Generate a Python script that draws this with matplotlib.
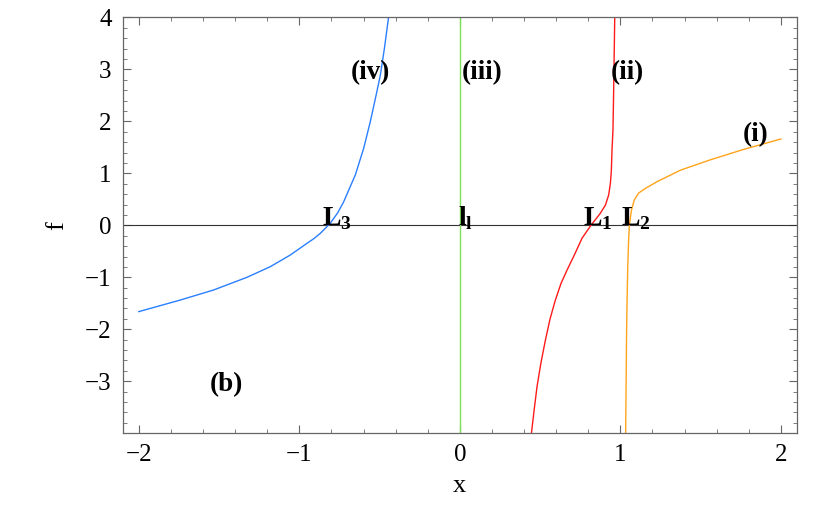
import numpy as np
import matplotlib
matplotlib.use('Agg')
import matplotlib.pyplot as plt
from matplotlib.ticker import MultipleLocator

plt.rcParams['font.family'] = ['Liberation Serif', 'DejaVu Serif']
plt.rcParams['mathtext.fontset'] = 'custom'
plt.rcParams['mathtext.rm'] = 'Liberation Serif'
plt.rcParams['mathtext.bf'] = 'Liberation Serif:bold'

# curve (iv), blue
x_iv = [-2.0, -1.741, -1.534, -1.326, -1.181, -1.056, -0.952, -0.911, -0.869, -0.807,
        -0.761, -0.724, -0.651, -0.599, -0.558, -0.526, -0.495, -0.470, -0.444]
f_iv = [-1.66, -1.437, -1.244, -1.0, -0.796, -0.571, -0.346, -0.26, -0.154, 0.04,
        0.24, 0.45, 0.97, 1.48, 1.99, 2.44, 2.89, 3.40, 4.0]

# curve (ii), red
x_ii = [0.446, 0.463, 0.481, 0.505, 0.533, 0.562, 0.595, 0.630, 0.668, 0.715,
        0.761, 0.817, 0.875, 0.907, 0.927, 0.938, 0.944, 0.948, 0.954, 0.958, 0.965]
f_ii = [-4.0, -3.55, -3.10, -2.65, -2.21, -1.80, -1.44, -1.12, -0.86, -0.56,
        -0.25, 0.0, 0.23, 0.39, 0.58, 0.81, 1.06, 1.45, 1.83, 2.54, 4.0]

# curve (i), orange
x_i = [1.033, 1.039, 1.042, 1.046, 1.052, 1.056, 1.069, 1.087, 1.114, 1.156,
       1.229, 1.374, 1.561, 1.768, 2.0]
f_i = [-4.0, -2.0, -1.44, -0.8, -0.25, 0.0, 0.29, 0.49, 0.62, 0.71,
       0.84, 1.06, 1.26, 1.46, 1.66]

# line (iii), green
x_iii = [0.0, 0.0]
f_iii = [-4.0, 4.0]

fig = plt.figure(figsize=(8.31, 5.13), dpi=100)
ax = fig.add_axes([0.1477, 0.1554, 0.8113, 0.8108])

ax.axhline(0, color='#333333', lw=0.8)
ax.plot(x_iii, f_iii, color='#7be05a', lw=1.0)
ax.plot(x_iv, f_iv, color='#2a7fff', lw=1.0)
ax.plot(x_ii, f_ii, color='#ff1a1a', lw=1.0)
ax.plot(x_i, f_i, color='#ffa31a', lw=1.0)

ax.set_xlim(-2.1, 2.1)
ax.set_ylim(-4, 4)
ax.set_xticks([-2, -1, 0, 1, 2])
ax.set_xticklabels(['\u22122', '\u22121', '0', '1', '2'])
ax.set_yticks([-3, -2, -1, 0, 1, 2, 3, 4])
ax.set_yticklabels(['\u22123', '\u22122', '\u22121', '0', '1', '2', '3', '4'])
ax.xaxis.set_minor_locator(MultipleLocator(0.2))
ax.yaxis.set_minor_locator(MultipleLocator(0.2))
ax.tick_params(which='both', direction='in', top=True, right=True,
               color='#666666', labelsize=18)
ax.tick_params(which='major', length=6, width=0.8, pad=8)
ax.tick_params(which='minor', length=3, width=0.6)
for s in ax.spines.values():
    s.set_color('#666666')
    s.set_linewidth(0.9)

ax.set_xlabel('x', fontsize=19, labelpad=6)
ax.set_ylabel('f', fontsize=19, labelpad=12)

bold = dict(fontsize=19.5, fontweight='bold', va='baseline', ha='left')
ax.text(-0.678, 2.81, '(iv)', **bold)
ax.text(0.014, 2.81, '(iii)', **bold)
ax.text(0.942, 2.81, '(ii)', **bold)
ax.text(1.764, 1.61, '(i)', **bold)
ax.text(-1.559, -3.18, '(b)', **bold)

lab = dict(fontsize=20, va='baseline', ha='left')
ax.text(-0.859, 0.0, r'$\mathbf{L}_\mathbf{3}$', **lab)
ax.text(-0.01, 0.0, r'$\mathbf{l}_\mathbf{l}$', **lab)
ax.text(0.767, 0.0, r'$\mathbf{L}_\mathbf{1}$', **lab)
ax.text(1.006, 0.0, r'$\mathbf{L}_\mathbf{2}$', **lab)

fig.savefig('out.png', dpi=100)
